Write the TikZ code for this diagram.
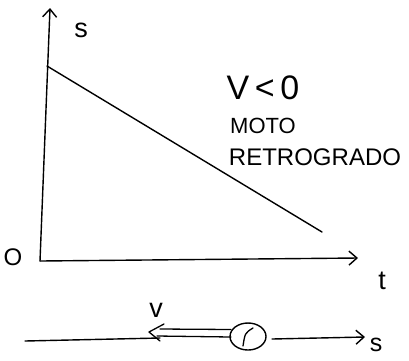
\documentclass[tikz,border=0pt]{standalone}
\usepackage{fontspec}
\setmainfont{Liberation Sans}
\usetikzlibrary{arrows.meta,calc,shapes.geometric}
\begin{document}
\begin{tikzpicture}[x=1pt,y=-1pt,
  stroke/.style={line width=1.4pt, line cap=round, line join=round},
  axis/.style={stroke, -{Straight Barb[length=8pt,width=14pt,line width=1.4pt]}},
  lbl/.style={inner sep=0pt, font=\fontsize{27}{27}\selectfont},
  note/.style={inner sep=0pt, font=\fontsize{22}{22}\selectfont}]
\useasboundingbox (0,0) rectangle (409,360);
% axes
\coordinate (O) at (40,261);
\coordinate (ytop) at (50,8);
\coordinate (xend) at (358,258);
\draw[axis] (O) -- (ytop);
\draw[axis] (O) -- (xend);
% graph line
\coordinate (s0) at (47,66);
\coordinate (s1) at (322,232);
\draw[stroke] (s0) -- (s1);
% labels
\node[lbl] (ls) at (81,30) {s};
\node[lbl, font=\fontsize{24}{24}\selectfont] (lO) at (13,257) {O};
\node[lbl] (lt) at (382,281) {t};
\node[font=\fontsize{34}{34}\selectfont, inner sep=0pt] (lv0) at (263,88) {V\,<\,0};
\node[note] (moto) at (263,126) {MOTO};
\node[note, font=\fontsize{24}{24}\selectfont] (retro) at (315,157) {RETROGRADO};
% bottom motion sketch
\node[ellipse, draw, line width=1.4pt, minimum width=36pt, minimum height=27pt, inner sep=0pt] (ball) at (248,336.5) {};
\coordinate (m1) at (243,346);
\coordinate (m2) at (253,328);
\draw[line width=1.3pt, line cap=round] (m1) .. controls (245,333) .. (m2);
\coordinate (lineL) at (25,341);
\coordinate (lineM) at (160,338);
\draw[stroke] (lineL) -- (lineM);
% hollow velocity arrow
\coordinate (vtopA) at (231,329.5);
\coordinate (vtopB) at (160,329);
\coordinate (vbotA) at (231,337);
\coordinate (vbotB) at (157,336);
\coordinate (vtip) at (149,332);
\coordinate (vbarbU) at (164,324);
\coordinate (vbarbD) at (160,341);
\draw[stroke, line width=1.3pt] (vtopA) -- (vtopB);
\draw[stroke, line width=1.3pt] (vbotA) -- (vbotB);
\draw[stroke, line width=1.3pt] (vbarbU) -- (vtip) -- (vbarbD);
\node[lbl] (lv) at (156,310) {v};
\coordinate (sstart) at (272,339);
\coordinate (sarr) at (365,337);
\draw[axis] (sstart) -- (sarr);
\node[lbl, font=\fontsize{25}{25}\selectfont] (ls2) at (376,345) {s};
\end{tikzpicture}
\end{document}
